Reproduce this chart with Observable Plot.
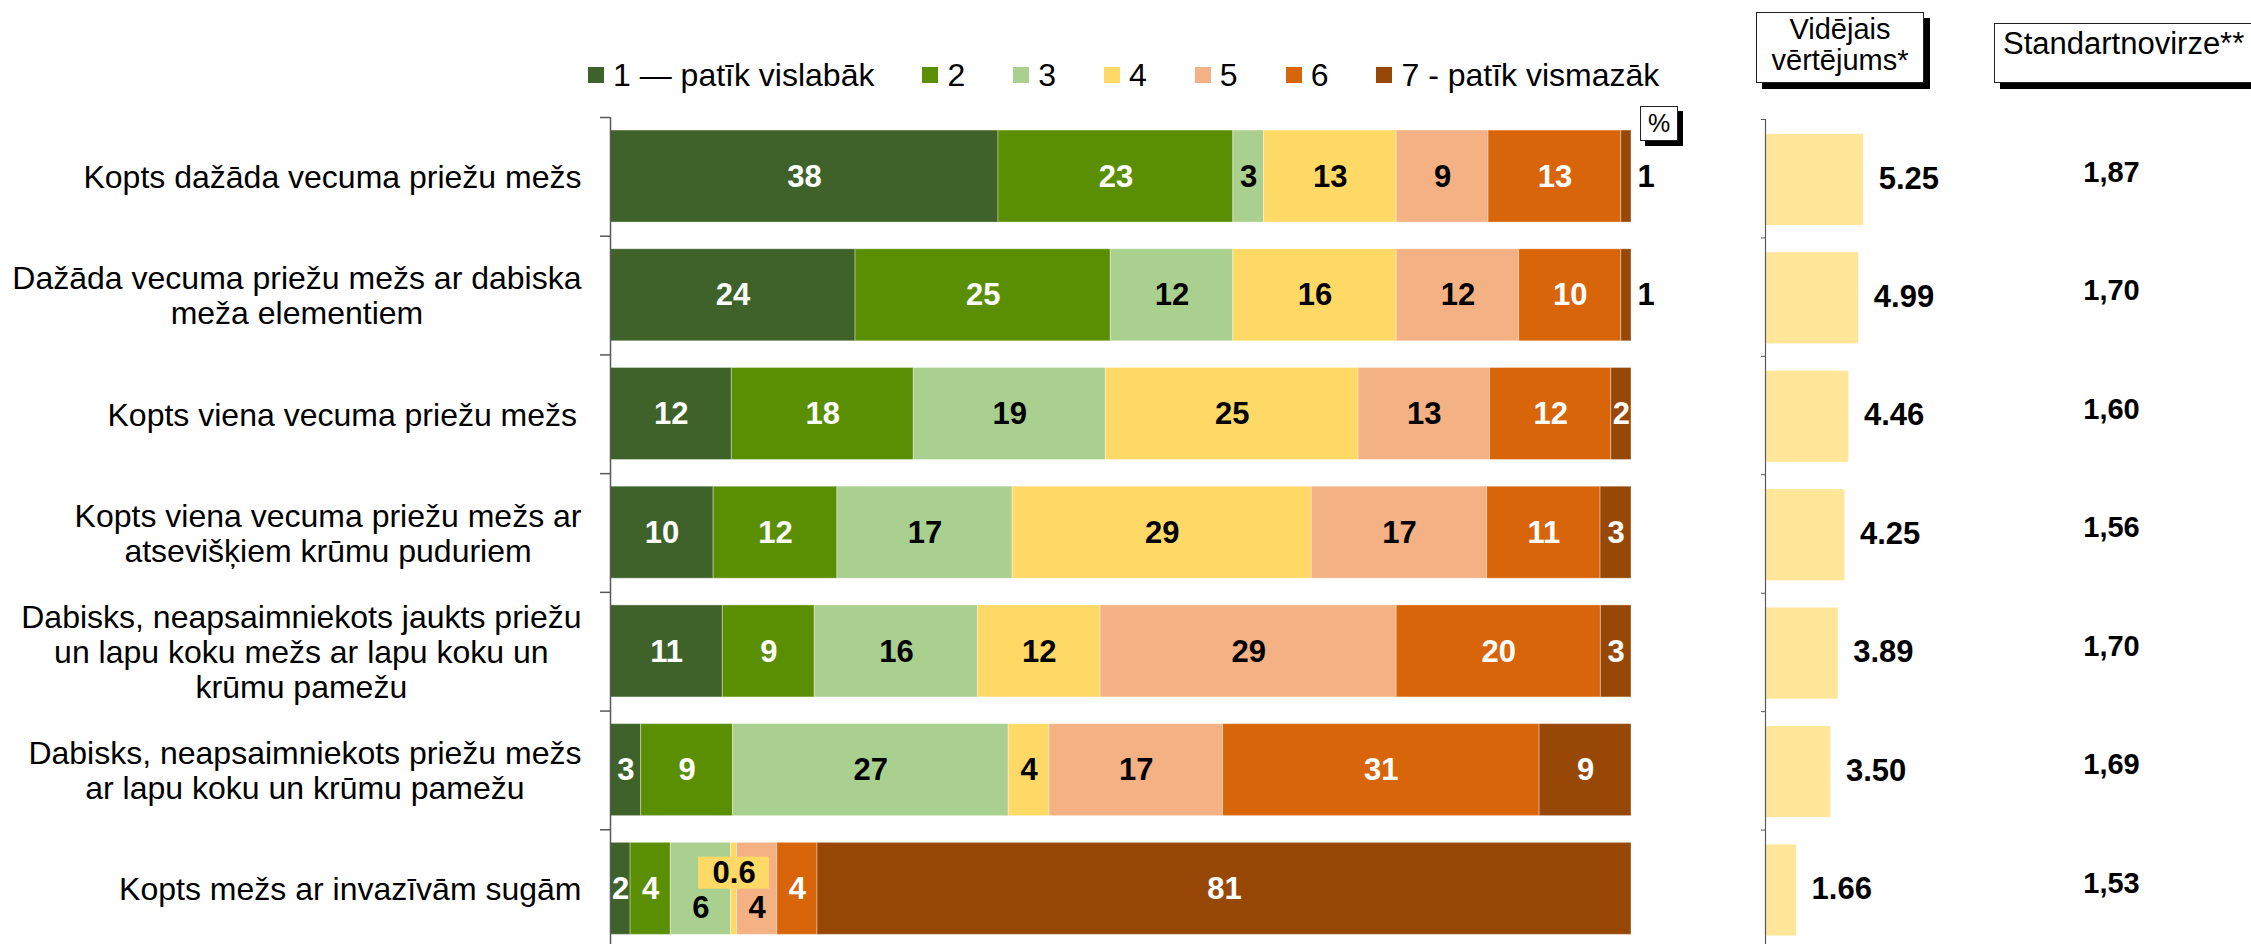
<!DOCTYPE html>
<html><head><meta charset="utf-8">
<script src="https://cdn.jsdelivr.net/npm/d3@7"></script>
<script src="https://cdn.jsdelivr.net/npm/@observablehq/plot@0.6"></script>
<style>
body{margin:0;background:#fff;overflow:hidden;font-family:"Liberation Sans",Arial,sans-serif;color:#000;}
#wrap{position:relative;width:2251px;height:944px;overflow:hidden;background:#fff;}
.panel{position:absolute;top:0;}
#legend{position:absolute;left:588px;top:59px;height:32px;display:flex;align-items:center;font-size:32px;line-height:32px;white-space:nowrap;}
.item{display:flex;align-items:center;margin-right:48px;}
.sw{width:16px;height:16px;margin-right:9px;}
.hbox{position:absolute;background:#fff;border:1px solid #222;box-shadow:6px 6px 0 #000;box-sizing:border-box;white-space:nowrap;}
</style></head><body><div id="wrap"></div>
<script>
// ---------- data ----------
const categories = [
  "Kopts dažāda vecuma priežu mežs",
  "Dažāda vecuma priežu mežs ar dabiska\nmeža elementiem",
  "Kopts viena vecuma priežu mežs ",
  "Kopts viena vecuma priežu mežs ar\natsevišķiem krūmu puduriem",
  "Dabisks, neapsaimniekots jaukts priežu\nun lapu koku mežs ar lapu koku un\nkrūmu pamežu",
  "Dabisks, neapsaimniekots priežu mežs\nar lapu koku un krūmu pamežu",
  "Kopts mežs ar invazīvām sugām"
];
const levels = ["1 — patīk vislabāk", "2", "3", "4", "5", "6", "7 - patīk vismazāk"];
const level1 = [38, 24, 12, 10, 11, 3, 2];
const level2 = [23, 25, 18, 12, 9, 9, 4];
const level3 = [3, 12, 19, 17, 16, 27, 6];
const level4 = [13, 16, 25, 29, 12, 4, 0.6];
const level5 = [9, 12, 13, 17, 29, 17, 4];
const level6 = [13, 10, 12, 11, 20, 31, 4];
const level7 = [1, 1, 2, 3, 3, 9, 81];
const means = [5.25, 4.99, 4.46, 4.25, 3.89, 3.50, 1.66];
const stdDevs = [1.87, 1.70, 1.60, 1.56, 1.70, 1.69, 1.53];
const meanHeader = "Vidējais\nvērtējums*";
const sdHeader = "Standartnovirze**";
const unitLabel = "%";

// ---------- styles ----------
const colors = ["#3e6229", "#5b8f03", "#a9d08e", "#ffd966", "#f4b183", "#d9650b", "#974807"];
const whiteText = new Set([0, 1, 5, 6]);
const meanFill = "#ffe699";
const axisColor = "#595959";
const FONT = "'Liberation Sans', Arial, sans-serif";

// ---------- derived table ----------
const series = [level1, level2, level3, level4, level5, level6, level7];
const segments = [];
categories.forEach((c, i) => {
  const total = d3.sum(series, s => s[i]);
  let acc = 0;
  const rowSegs = series.map((s, k) => {
    const v = s[i];
    const seg = {row: i, level: k, value: v, x1: acc / total, x2: (acc + v) / total, share: v / total, mode: "in"};
    acc += v;
    return seg;
  });
  rowSegs.forEach((d, k) => {
    if (d.share < 0.015) d.mode = (k === rowSegs.length - 1) ? "out" : "up";
  });
  rowSegs.forEach((d, k) => {
    if (d.mode === "in" && ((rowSegs[k - 1] && rowSegs[k - 1].mode === "up") || (rowSegs[k + 1] && rowSegs[k + 1].mode === "up")) && !whiteText.has(k)) d.mode = "down";
  });
  segments.push(...rowSegs);
});
const lab = d => String(d.value);
const mid = d => (d.x1 + d.x2) / 2;
const rowMid = d => d.row + 0.5;

// measure label blocks
const ctx = document.createElement("canvas").getContext("2d");
ctx.font = "32px " + FONT;
const rowLabelMarks = categories.map((c, i) => {
  const lines = c.split("\n");
  const w = d3.max(lines, l => ctx.measureText(l).width);
  return Plot.text([{row: i, text: lines.map(l => l.trim()).join("\n")}], {
    frameAnchor: "left", y: rowMid, text: "text", dx: -29 - w / 2,
    textAnchor: "middle", fontSize: 32, lineHeight: 1.1, fill: "#000"
  });
});

const valueText = (data, fill, extra = {}) => Plot.text(data, {
  x: mid, y: rowMid, text: lab, fill, fontWeight: "bold", fontSize: 31, ...extra
});

const main = Plot.plot({
  width: 1700, height: 944,
  marginLeft: 610, marginRight: 69, marginTop: 117, marginBottom: 0,
  x: {domain: [0, 1], axis: null},
  y: {domain: [0, 7], range: [117, 948], axis: null},
  color: {type: "ordinal", domain: d3.range(7), range: colors},
  style: {fontFamily: FONT, background: "transparent", overflow: "visible"},
  marks: [
    Plot.rect(segments, {x1: "x1", x2: "x2", y1: d => d.row + 0.11, y2: d => d.row + 0.885, fill: "level", stroke: "#fff", strokeOpacity: 0.35, strokeWidth: 1}),
    Plot.ruleX([0], {stroke: axisColor, strokeWidth: 1.5}),
    Plot.ruleY(d3.range(8), {x1: 0, x2: 0, insetLeft: -10, stroke: axisColor, strokeWidth: 1.5}),
    valueText(segments.filter(d => d.mode === "in" && whiteText.has(d.level)), "#fff"),
    valueText(segments.filter(d => d.mode === "in" && !whiteText.has(d.level)), "#000"),
    valueText(segments.filter(d => d.mode === "down"), "#000", {dy: 19}),
    valueText(segments.filter(d => d.mode === "out"), "#000", {x: "x2", dx: 6, textAnchor: "start"}),
    Plot.rect(segments.filter(d => d.mode === "up"), {x1: mid, x2: mid, y1: rowMid, y2: rowMid, insetLeft: -35.5, insetRight: -35.5, insetTop: -32, insetBottom: 0, fill: d => d.level}),
    valueText(segments.filter(d => d.mode === "up"), "#000", {dy: -16}),
    ...rowLabelMarks
  ]
});

const meanData = means.map((m, i) => ({row: i, mean: m, sd: stdDevs[i]}));
const side = Plot.plot({
  width: 551, height: 944,
  marginLeft: 65, marginRight: 0, marginTop: 119, marginBottom: 0,
  x: {domain: [0, 7], range: [65, 65 + 7 * 18.7], axis: null},
  y: {domain: [0, 7], range: [119, 948], axis: null},
  style: {fontFamily: FONT, background: "transparent", overflow: "visible"},
  marks: [
    Plot.rect(meanData, {x1: 0, x2: "mean", y1: d => d.row + 0.125, y2: d => d.row + 0.895, fill: meanFill}),
    Plot.ruleX([0], {stroke: axisColor, strokeWidth: 1.2}),
    Plot.ruleY(d3.range(8), {x1: 0, x2: 0, insetLeft: -4, stroke: axisColor}),
    Plot.text(meanData, {x: "mean", y: rowMid, text: d => d.mean.toFixed(2), dx: 15, textAnchor: "start", fontWeight: "bold", fontSize: 31, fill: "#000"}),
    Plot.text(meanData, {frameAnchor: "left", y: rowMid, dx: 346, dy: -6, text: d => d.sd.toFixed(2).replace(".", ","), textAnchor: "middle", fontWeight: "bold", fontSize: 29, fill: "#000"})
  ]
});

const wrap = document.getElementById("wrap");
const p1 = document.createElement("div"); p1.className = "panel"; p1.style.left = "0px"; p1.appendChild(main); wrap.appendChild(p1);
const p2 = document.createElement("div"); p2.className = "panel"; p2.style.left = "1700px"; p2.appendChild(side); wrap.appendChild(p2);

// legend
const legend = document.createElement("div");
legend.id = "legend";
levels.forEach((l, k) => {
  const it = document.createElement("div"); it.className = "item";
  const sw = document.createElement("div"); sw.className = "sw"; sw.style.background = colors[k];
  const tx = document.createElement("span"); tx.textContent = l;
  it.appendChild(sw); it.appendChild(tx); legend.appendChild(it);
});
wrap.appendChild(legend);

// header boxes
function box(text, css) {
  const b = document.createElement("div"); b.className = "hbox";
  Object.assign(b.style, css);
  b.innerHTML = text.split("\n").map(t => `<div>${t}</div>`).join("");
  wrap.appendChild(b);
  return b;
}
box(meanHeader, {left: "1756px", top: "12px", width: "168px", height: "71px", fontSize: "29px", lineHeight: "31px", textAlign: "center", paddingTop: "1px"});
box(sdHeader, {left: "1994px", top: "23px", width: "300px", height: "60px", fontSize: "31px", lineHeight: "34px", paddingLeft: "8px", paddingTop: "3px"});
box(unitLabel, {left: "1640px", top: "106px", width: "38px", height: "35px", fontSize: "25px", lineHeight: "33px", textAlign: "center", boxShadow: "5px 5px 0 #000"});
</script>
</body></html>
